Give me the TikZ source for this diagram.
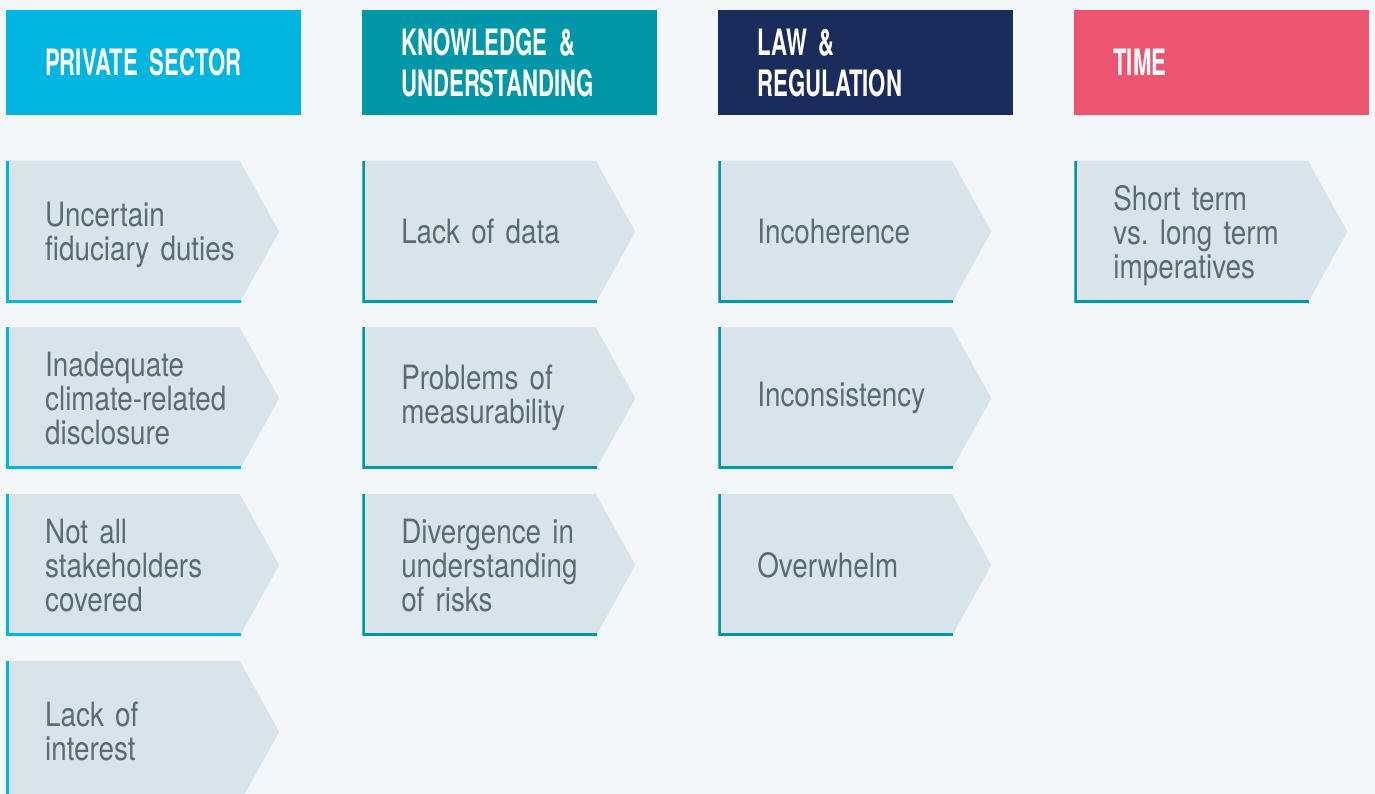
\documentclass[tikz,border=0pt]{standalone}
\usepackage{fontspec}
\usepackage{tikz}
\usetikzlibrary{positioning}
\newfontfamily\headfont{TeX Gyre Heros}[FakeStretch=0.61]
\newfontfamily\itemfont{TeX Gyre Heros}[FakeStretch=0.83]
\definecolor{page}{HTML}{F3F7FA}
\definecolor{itemfill}{HTML}{D9E3EA}
\definecolor{itemtext}{HTML}{5E6A72}
\definecolor{cyanhead}{HTML}{00B5DF}
\definecolor{tealhead}{HTML}{0098A8}
\definecolor{navyhead}{HTML}{1A2C5B}
\definecolor{pinkhead}{HTML}{EC5470}
\tikzset{
  head/.style={rectangle, minimum width=295pt, minimum height=105pt,
    text width=217pt, inner xsep=39pt, inner ysep=0pt, align=left,
    text=white,
    font={\headfont\bfseries\fontsize{36.3}{41}\selectfont\spaceskip=3pt plus 1pt}},
  item/.style={rectangle, fill=page, minimum height=142pt,
    text width=195pt, inner xsep=39pt, inner ysep=0pt, align=left,
    text=itemtext,
    font={\itemfont\fontsize{33.5}{34}\selectfont\spaceskip=4.5pt plus 1pt},
    path picture={
      \fill[itemfill] (path picture bounding box.north west)
        -- ([xshift=-39.5pt]path picture bounding box.north east)
        -- (path picture bounding box.east)
        -- ([xshift=-39.5pt]path picture bounding box.south east)
        -- (path picture bounding box.south west) -- cycle;
      \draw[line width=3pt, draw=#1]
        ([xshift=1.5pt]path picture bounding box.north west)
        -- ([shift={(1.5pt,1.5pt)}]path picture bounding box.south west)
        -- ([shift={(-38pt,1.5pt)}]path picture bounding box.south east);
    }},
  item/.default=tealhead
}
\begin{document}
\begin{tikzpicture}
  \useasboundingbox (0,0) rectangle (1375pt,-794pt);
  \clip (0,0) rectangle (1375pt,-794pt);
  \fill[page] (0,0) rectangle (1375pt,-794pt);

  % headers
  \node[head, fill=cyanhead, anchor=north west] (private) at (6pt,-10pt) {PRIVATE SECTOR};
  \node[head, fill=tealhead, right=60.67pt of private] (knowledge) {KNOWLEDGE \&\\UNDERSTANDING};
  \node[head, fill=navyhead, right=60.67pt of knowledge] (law) {LAW \&\\REGULATION};
  \node[head, fill=pinkhead, right=60.67pt of law] (time) {TIME};

  % private sector
  \node[item=cyanhead, below=45pt of private.south west, anchor=north west] (duties) {Uncertain\\\smash{fiduciary duties}};
  \node[item=cyanhead, below=24.33pt of duties] (disclosure) {Inadequate\\climate-related\\disclosure};
  \node[item=cyanhead, below=24.33pt of disclosure] (stakeholders) {Not all\\stakeholders\\covered};
  \node[item=cyanhead, below=24.33pt of stakeholders] (interest) {Lack of\\interest};

  % knowledge & understanding
  \node[item, below=45pt of knowledge.south west, anchor=north west] (data) {Lack of data};
  \node[item, below=24.33pt of data] (measure) {Problems of\\measurability};
  \node[item, below=24.33pt of measure] (risks) {Divergence in\\understanding\\of risks};

  % law & regulation
  \node[item, below=45pt of law.south west, anchor=north west] (incoherence) {Incoherence};
  \node[item, below=24.33pt of incoherence] (inconsistency) {Inconsistency};
  \node[item, below=24.33pt of inconsistency] (overwhelm) {Overwhelm};

  % time
  \node[item, below=45pt of time.south west, anchor=north west] (term) {Short term\\vs.\ long term\\\smash{imperatives}};
\end{tikzpicture}
\end{document}
